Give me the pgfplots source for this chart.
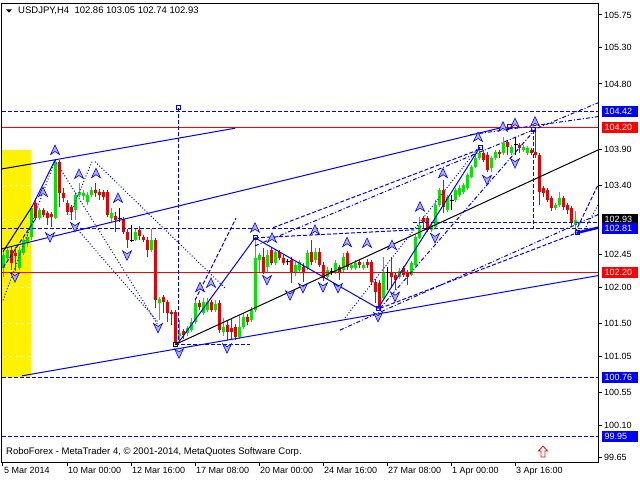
\documentclass[border=0pt]{standalone}
\usepackage{pgfplots}
\pgfplotsset{compat=1.18}
\usepackage{pgfplotstable}
\usepackage{fontspec}
\setmainfont{Liberation Sans}
\definecolor{mtblue}{RGB}{0,0,255}
\definecolor{mtred}{RGB}{255,0,0}
\definecolor{bullc}{RGB}{0,230,0}
\definecolor{bearc}{RGB}{235,0,0}
\definecolor{fracfill}{RGB}{175,175,255}

\pgfdeclareplotmark{fup}{%
  \pgfpathmoveto{\pgfqpoint{0pt}{5pt}}%
  \pgfpathlineto{\pgfqpoint{-4.5pt}{-4.5pt}}%
  \pgfpathlineto{\pgfqpoint{0pt}{-1.5pt}}%
  \pgfpathlineto{\pgfqpoint{4.5pt}{-4.5pt}}%
  \pgfpathclose\pgfusepathqfillstroke}
\pgfdeclareplotmark{fdown}{%
  \pgfpathmoveto{\pgfqpoint{0pt}{-5pt}}%
  \pgfpathlineto{\pgfqpoint{-4.5pt}{4.5pt}}%
  \pgfpathlineto{\pgfqpoint{0pt}{1.5pt}}%
  \pgfpathlineto{\pgfqpoint{4.5pt}{4.5pt}}%
  \pgfpathclose\pgfusepathqfillstroke}
\pgfdeclareplotmark{redup}{%
  \pgfpathmoveto{\pgfqpoint{0pt}{6pt}}%
  \pgfpathlineto{\pgfqpoint{-4.5pt}{1pt}}%
  \pgfpathlineto{\pgfqpoint{-2pt}{1pt}}%
  \pgfpathlineto{\pgfqpoint{-2pt}{-5pt}}%
  \pgfpathlineto{\pgfqpoint{2pt}{-5pt}}%
  \pgfpathlineto{\pgfqpoint{2pt}{1pt}}%
  \pgfpathlineto{\pgfqpoint{4.5pt}{1pt}}%
  \pgfpathclose\pgfusepathqstroke}

\pgfplotsset{
  wick/.style={draw=none, mark=none, forget plot, error bars/.cd, y dir=both, y explicit, error mark=none, error bar style={line width=1pt, draw=#1, solid}},
  body/.style={draw=none, mark=none, forget plot, error bars/.cd, y dir=both, y explicit, error mark=none, error bar style={line width=3pt, draw=#1, solid}},
  dashedl/.style={mtblue, line width=1pt, dash pattern=on 4pt off 2pt, forget plot},
  dottedl/.style={mtblue, line width=1pt, dash pattern=on 1pt off 2pt, forget plot},
  dashdotl/.style={mtblue, line width=1pt, dash pattern=on 4pt off 2pt on 1pt off 2pt, forget plot},
  solidl/.style={mtblue, line width=1pt, forget plot},
}

\pgfplotstableread{
x o h l c
3.5 102.27 102.51 102.14 102.44
7.5 102.40 102.56 102.35 102.51
19.5 102.27 102.56 102.24 102.51
23.5 102.47 102.69 102.44 102.65
27.5 102.62 102.79 102.56 102.69
31.5 102.69 103.12 102.65 103.09
39.5 102.95 103.09 102.93 103.06
55.5 102.95 103.75 102.94 103.72
75.5 103.06 103.31 102.93 103.27
79.5 103.27 103.44 103.24 103.31
83.5 103.26 103.34 103.20 103.30
87.5 103.17 103.31 103.13 103.27
91.5 103.27 103.38 103.24 103.34
111.5 102.95 103.09 102.90 103.02
135.5 102.65 102.80 102.64 102.76
151.5 102.51 102.80 102.49 102.65
159.5 101.78 101.87 101.55 101.84
179.5 101.33 101.55 101.23 101.37
187.5 101.37 101.47 101.33 101.44
191.5 101.41 101.58 101.38 101.52
195.5 101.52 101.85 101.49 101.78
203.5 101.65 101.85 101.62 101.80
207.5 101.69 101.85 101.66 101.80
215.5 101.69 101.82 101.66 101.77
223.5 101.38 101.58 101.33 101.45
239.5 101.31 101.62 101.29 101.45
243.5 101.45 101.65 101.42 101.59
251.5 101.55 101.73 101.52 101.69
255.5 101.69 102.68 101.66 102.40
259.5 102.38 102.47 102.21 102.44
267.5 102.28 102.51 102.20 102.44
275.5 102.33 102.51 102.31 102.49
295.5 102.20 102.35 102.16 102.31
299.5 102.24 102.38 102.21 102.35
307.5 102.27 102.51 102.24 102.47
315.5 102.38 102.54 102.33 102.49
327.5 102.14 102.28 102.11 102.24
335.5 102.21 102.38 102.18 102.33
343.5 102.24 102.47 102.21 102.42
351.5 102.27 102.33 102.24 102.31
355.5 102.27 102.38 102.24 102.33
363.5 102.27 102.35 102.24 102.31
383.5 101.85 102.42 101.82 102.21
399.5 102.14 102.27 102.11 102.22
411.5 102.17 102.36 102.16 102.33
415.5 102.31 102.72 102.29 102.69
419.5 102.68 102.97 102.66 102.86
431.5 102.79 102.90 102.76 102.86
435.5 102.83 103.20 102.82 103.13
439.5 103.13 103.37 103.11 103.34
447.5 103.06 103.27 103.04 103.24
455.5 103.20 103.37 103.17 103.34
459.5 103.27 103.41 103.24 103.37
463.5 103.31 103.44 103.29 103.41
467.5 103.37 103.57 103.34 103.55
471.5 103.52 103.68 103.51 103.66
475.5 103.66 103.82 103.64 103.78
479.5 103.78 103.93 103.75 103.85
491.5 103.64 103.81 103.59 103.78
495.5 103.78 103.89 103.75 103.86
503.5 103.85 104.07 103.82 103.99
511.5 103.85 103.96 103.82 103.93
523.5 103.89 103.96 103.86 103.93
527.5 103.85 103.95 103.82 103.92
555.5 103.09 103.16 103.06 103.13
559.5 103.13 103.31 103.11 103.23
575.5 102.86 103.05 102.74 102.93
}\bull

\pgfplotstableread{
x o h l c
11.5 102.51 102.57 102.24 102.33
15.5 102.47 102.56 102.22 102.43
35.5 103.16 103.23 102.93 102.95
43.5 103.06 103.09 102.97 103.00
47.5 103.02 103.05 102.86 102.95
51.5 103.01 103.04 102.83 102.97
59.5 103.72 103.75 103.11 103.30
63.5 103.30 103.37 103.17 103.23
67.5 103.16 103.20 103.00 103.04
71.5 103.11 103.13 102.93 103.04
95.5 103.34 103.44 103.24 103.30
99.5 103.31 103.35 103.20 103.27
103.5 103.31 103.34 103.20 103.24
107.5 103.31 103.34 102.97 103.00
115.5 102.98 103.04 102.76 102.93
123.5 102.94 102.97 102.73 102.76
127.5 102.76 102.80 102.54 102.65
139.5 102.79 102.84 102.65 102.71
143.5 102.69 102.72 102.62 102.65
147.5 102.65 102.69 102.42 102.51
155.5 102.65 102.68 101.71 101.82
163.5 101.87 101.89 101.65 101.80
167.5 101.80 101.82 101.52 101.65
171.5 101.66 101.69 101.48 101.63
175.5 101.66 101.69 101.22 101.25
183.5 101.40 101.42 101.29 101.34
199.5 101.78 101.82 101.69 101.73
211.5 101.80 101.82 101.66 101.69
219.5 101.78 101.82 101.37 101.41
227.5 101.48 101.55 101.27 101.38
231.5 101.44 101.58 101.27 101.38
235.5 101.45 101.49 101.27 101.31
247.5 101.59 101.63 101.48 101.52
263.5 102.42 102.54 102.18 102.21
271.5 102.51 102.56 102.31 102.33
279.5 102.49 102.51 102.38 102.40
283.5 102.40 102.44 102.31 102.33
291.5 102.38 102.42 102.06 102.20
303.5 102.28 102.33 102.07 102.21
311.5 102.49 102.65 102.31 102.35
319.5 102.49 102.54 102.28 102.31
323.5 102.31 102.35 102.09 102.13
339.5 102.28 102.31 102.10 102.21
347.5 102.47 102.50 102.24 102.28
359.5 102.35 102.38 102.27 102.31
367.5 102.35 102.39 102.27 102.31
371.5 102.35 102.38 102.03 102.07
375.5 102.07 102.11 101.78 101.93
379.5 102.06 102.10 101.69 101.73
391.5 102.21 102.42 101.99 102.14
395.5 102.17 102.21 101.96 102.10
403.5 102.27 102.29 102.14 102.17
407.5 102.21 102.24 102.03 102.14
423.5 102.95 102.98 102.82 102.90
427.5 102.95 102.98 102.76 102.79
443.5 103.34 103.48 103.02 103.11
483.5 103.85 103.89 103.72 103.75
487.5 103.82 103.86 103.59 103.61
499.5 103.86 103.89 103.78 103.84
507.5 104.00 104.03 103.82 103.93
519.5 103.96 103.99 103.85 103.92
531.5 103.89 103.92 103.82 103.85
535.5 103.86 104.14 103.78 103.82
539.5 103.82 103.85 103.13 103.31
543.5 103.37 103.40 103.24 103.30
547.5 103.34 103.37 103.17 103.20
551.5 103.23 103.26 103.05 103.09
563.5 103.23 103.26 103.06 103.11
567.5 103.13 103.16 103.01 103.06
571.5 103.09 103.12 102.85 102.88
}\bear

\pgfplotstableread{
x o h l c
119.5 102.95 103.09 102.90 102.95
131.5 102.65 102.86 102.62 102.65
287.5 102.35 102.39 102.31 102.35
331.5 102.21 102.27 102.17 102.21
387.5 102.20 102.28 101.96 102.20
451.5 103.20 103.27 103.06 103.20
515.5 103.96 104.07 103.82 103.96
}\doji

\begin{document}
\begin{tikzpicture}[x=1pt,y=1pt]
\path[use as bounding box] (0,0) rectangle (640,480);
\begin{axis}[
  at={(2pt,18pt)}, anchor=south west,
  scale only axis, width=596pt, height=459pt,
  xmin=2, xmax=598, ymin=99.593, ymax=105.915,
  axis line style={black, line width=1pt},
  xtick={3,67,131,195,259,323,387,451,515},
  xticklabels={5 Mar 2014,10 Mar 00:00,12 Mar 16:00,17 Mar 08:00,20 Mar 00:00,24 Mar 16:00,27 Mar 08:00,1 Apr 00:00,3 Apr 16:00},
  ytick={105.75,105.30,104.80,103.90,103.40,102.45,102.00,101.50,101.05,100.55,100.10,99.65},
  yticklabels={105.75,105.30,104.80,103.90,103.40,102.45,102.00,101.50,101.05,100.55,100.10,99.65},
  xtick pos=left, ytick pos=right, yticklabel pos=right,
  tick align=outside, major tick length=4pt,
  tick style={black, line width=1pt},
  ticklabel style={font=\fontsize{9}{10}\selectfont},
  xticklabel style={anchor=north west, inner sep=0pt, xshift=1pt, yshift=-1pt},
  yticklabel style={anchor=west, inner sep=0pt, xshift=2pt},
  clip=true,
]
% yellow zone
\addplot[fill=yellow, draw=none, forget plot] coordinates {(2,103.89) (31,103.89) (31,100.76) (2,100.76)} -- cycle;
\addplot[white, line width=1pt, dash pattern=on 3pt off 3pt, forget plot] coordinates {(3,103.40) (31,103.40)};
\addplot[white, line width=1pt, dash pattern=on 3pt off 3pt, forget plot] coordinates {(3,102.93) (31,102.93)};
\addplot[white, line width=1pt, dash pattern=on 3pt off 3pt, forget plot] coordinates {(3,102.45) (31,102.45)};
\addplot[white, line width=1pt, dash pattern=on 3pt off 3pt, forget plot] coordinates {(3,102.00) (31,102.00)};
\addplot[white, line width=1pt, dash pattern=on 3pt off 3pt, forget plot] coordinates {(3,101.50) (31,101.50)};
\addplot[white, line width=1pt, dash pattern=on 3pt off 3pt, forget plot] coordinates {(3,101.05) (31,101.05)};

% candles
\addplot[wick=bullc] table[x=x, y expr={(\thisrow{h}+\thisrow{l})/2}, y error expr={(\thisrow{h}-\thisrow{l})/2}] {\bull};
\addplot[body=bullc] table[x=x, y expr={(\thisrow{o}+\thisrow{c})/2}, y error expr={abs(\thisrow{c}-\thisrow{o})/2}] {\bull};
\addplot[wick=bearc] table[x=x, y expr={(\thisrow{h}+\thisrow{l})/2}, y error expr={(\thisrow{h}-\thisrow{l})/2}] {\bear};
\addplot[body=bearc] table[x=x, y expr={(\thisrow{o}+\thisrow{c})/2}, y error expr={abs(\thisrow{c}-\thisrow{o})/2}] {\bear};
\addplot[wick=black] table[x=x, y expr={(\thisrow{h}+\thisrow{l})/2}, y error expr={(\thisrow{h}-\thisrow{l})/2}] {\doji};
\addplot[only marks, mark=-, mark size=2pt, mark options={line width=1pt, black}, forget plot] table[x=x, y=o] {\doji};

% horizontal levels
\addplot[dashedl] coordinates {(2,104.42) (598,104.42)};
\addplot[mtred, line width=1pt, forget plot] coordinates {(2,104.20) (598,104.20)};
\addplot[dashedl] coordinates {(2,102.81) (598,102.81)};
\addplot[mtred, line width=1pt, forget plot] coordinates {(2,102.20) (598,102.20)};
\addplot[dashedl] coordinates {(2,100.76) (598,100.76)};
\addplot[dashedl] coordinates {(2,99.95) (598,99.95)};
\addplot[dashedl] coordinates {(175,101.21) (250,101.21)};
\addplot[dashedl] coordinates {(255,102.68) (413,102.79)};
\addplot[dashedl] coordinates {(413,102.89) (598,102.89)};
\addplot[dashedl] coordinates {(178,104.47) (178,101.23)};
\addplot[dashedl] coordinates {(533,104.17) (533,102.82)};

% solid trend lines
\addplot[black, line width=1pt, forget plot] coordinates {(2,103.63) (32,103.70)};
\addplot[solidl] coordinates {(32,103.70) (235,104.19)};
\addplot[solidl] coordinates {(2,102.53) (505,104.21)};
\addplot[solidl] coordinates {(22,100.78) (598,102.16)};
\addplot[solidl] coordinates {(178,101.23) (255,102.68) (378,101.71) (480,103.93)};
\addplot[black, line width=1pt, forget plot] coordinates {(3,102.49) (32,103.11)};
\addplot[solidl] coordinates {(32,103.11) (55,103.75)};
\addplot[mtblue, line width=2.5pt, forget plot] coordinates {(577,102.75) (598,102.82)};
\addplot[black, line width=1pt, forget plot] coordinates {(175,101.21) (598,103.89)};

% dotted / dashed fans
\addplot[dottedl] coordinates {(55,103.75) (158,101.48)};
\addplot[dottedl] coordinates {(95,103.73) (225,101.99)};
\addplot[dottedl] coordinates {(76,102.82) (158,101.52)};
\addplot[dottedl] coordinates {(92,103.73) (70,103.00)};
\addplot[dottedl] coordinates {(3,101.82) (55,103.75)};
\addplot[dashedl] coordinates {(3,102.27) (35,102.93)};
\addplot[dashedl] coordinates {(195,101.82) (236,102.95)};
\addplot[dashdotl] coordinates {(255,102.57) (598,104.54)};
\addplot[dashdotl] coordinates {(470,104.10) (598,104.35)};
\addplot[dashedl] coordinates {(273,102.82) (478,103.89)};
\addplot[dottedl] coordinates {(345,101.58) (480,103.95)};
\addplot[dashdotl] coordinates {(380,101.71) (535,104.17)};
\addplot[dashedl] coordinates {(380,101.71) (577,102.75)};
\addplot[dashdotl] coordinates {(340,101.41) (598,103.00)};
\addplot[dashedl] coordinates {(575,102.75) (598,103.41)};
\addplot[dottedl] coordinates {(583,102.76) (598,103.13)};

% zigzag squares
\addplot[only marks, mark=square, mark size=2pt, mark options={mtblue, line width=1pt}, forget plot] coordinates {(255,102.68) (378,101.71) (480,103.93) (509,104.21) (577,102.75) (533,104.17) (178,104.47)};
\addplot[only marks, mark=square, mark size=2pt, mark options={black, line width=1pt}, forget plot] coordinates {(175,101.21)};

% fractal arrows
\addplot[only marks, mark=fup, mark options={draw=mtblue, fill=fracfill, line width=0.6pt}, forget plot] coordinates {
(55,103.89) (43,103.31) (79,103.56) (96,103.57) (118,103.23) (200,102.00) (211,102.06) (255,102.82) (272,102.68) (315,102.79) (347,102.62) (367,102.61) (392,102.58) (420,103.11) (443,103.57) (478,104.07) (503,104.21) (515,104.26) (535,104.28)};
\addplot[only marks, mark=fdown, mark options={draw=mtblue, fill=fracfill, line width=0.6pt}, forget plot] coordinates {
(15,102.14) (50,102.69) (75,102.83) (127,102.44) (158,101.44) (179,101.09) (227,101.16) (267,102.10) (290,101.89) (303,101.99) (323,102.00) (338,101.99) (378,101.59) (395,101.87) (435,102.68) (487,103.48) (515,103.71)};
\addplot[only marks, mark=redup, mark options={draw=mtred, line width=0.8pt}, forget plot] coordinates {(543,99.73)};

\coordinate (la) at (axis cs:598,104.42);
\coordinate (lb) at (axis cs:598,104.20);
\coordinate (lc) at (axis cs:598,102.93);
\coordinate (ld) at (axis cs:598,102.81);
\coordinate (le) at (axis cs:598,102.20);
\coordinate (lf) at (axis cs:598,100.76);
\coordinate (lg) at (axis cs:598,99.95);
\end{axis}
\tikzset{pbox/.style={anchor=west, text=white, inner xsep=3pt, inner ysep=0pt, minimum height=11pt, text width=30pt, font=\fontsize{9}{10}\selectfont, xshift=3.5pt}}
\node[pbox, fill=mtblue] at (la) {104.42};
\node[pbox, fill=mtred] at (lb) {104.20};
\node[pbox, fill=black] at (lc) {102.93};
\node[pbox, fill=mtblue] at (ld) {102.81};
\node[pbox, fill=mtred] at (le) {102.20};
\node[pbox, fill=mtblue] at (lf) {100.76};
\node[pbox, fill=mtblue] at (lg) {99.95};
\fill[black] (6,470.7) -- (12,470.7) -- (9,467.3) -- cycle;
\node[anchor=west, inner sep=0pt, font=\fontsize{9.5}{10}\selectfont] at (18,469) {USDJPY,H4\ \ 102.86 103.05 102.74 102.93};
\node[anchor=west, inner sep=0pt, font=\fontsize{9.5}{10}\selectfont] at (6,28) {RoboForex - MetaTrader 4, © 2001-2014, MetaQuotes Software Corp.};
\end{tikzpicture}
\end{document}
